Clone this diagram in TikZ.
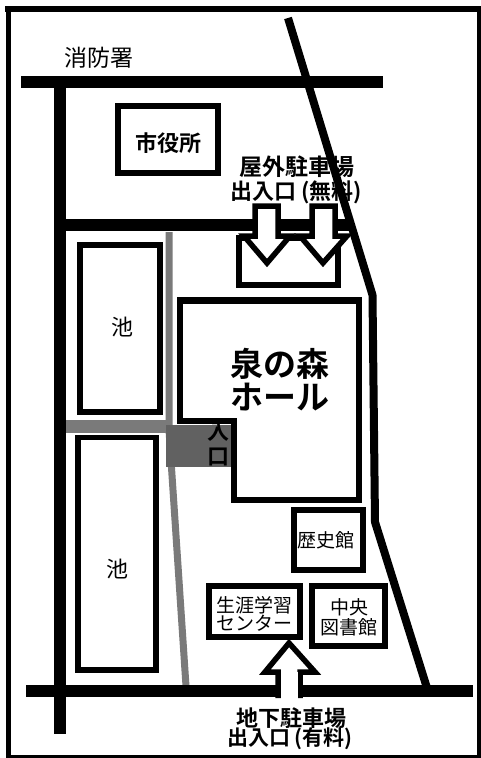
\documentclass[tikz,border=0pt]{standalone}
\usepackage{fontspec}
\setmainfont{Noto Sans CJK JP}[BoldFont={Noto Sans CJK JP Bold}]
\begin{document}
\begin{tikzpicture}[x=1pt,y=-1pt,
  road/.style={line width=12.5pt,black,line cap=butt},
  thinroad/.style={line width=8pt,black,line join=round},
  bldg/.style={draw=black,line width=5.5pt,fill=white,line join=miter},
  arrowshape/.style={draw=black,line width=5.5pt,fill=white,line join=miter},
  lbl/.style={inner sep=0pt,align=center,text=black},
  fs/.style={font=\fontsize{#1pt}{#1pt}\selectfont},
  bfs/.style={font=\fontsize{#1pt}{#1pt}\selectfont\bfseries},
  greyA/.style={black!52},
  greyB/.style={fill=black!62,draw=none}]
\useasboundingbox (0,0) rectangle (481,758);
\fill[white] (0,0) rectangle (481,758);
\draw[line width=6pt,black] (5,9) -- (481,9);
\draw[line width=5pt,black] (8,6) -- (8,757);
\draw[line width=3pt,black] (6,756.5) -- (481,756.5);
\draw[line width=4pt,black] (479,6) -- (479,758);
% pedestrian paths (stippled grey)
\fill[greyA] (63,420) rectangle (172,433);
\draw[greyA,line width=7pt] (169,232) -- (169,430) -- (186,686);
% roads
\draw[road] (21,82) -- (383,82);
\draw[road] (60,76) -- (60,734);
\draw[road] (54,225) -- (352,225);
\draw[road] (26,691) -- (473,691);
\draw[thinroad] (288,18) -- (372.5,295) -- (375,522) -- (427,688);
% ponds
\draw[bldg,line width=6pt] (79.5,245) rectangle (159.5,412);
\draw[bldg] (78,437.5) rectangle (156,670);
% buildings
\draw[bldg,line width=6pt] (118,106) rectangle (218,173);
\draw[bldg] (239,238) rectangle (338,285);
\draw[bldg,line width=6.5pt] (180,300.5) -- (359,300.5) -- (359,500) -- (234,500) -- (234,421) -- (180,421) -- cycle;
% entrance
\fill[greyB] (166,425) rectangle (231,467);
\draw[bldg] (294,510) rectangle (363,570);
\draw[bldg] (209,586) rectangle (300,637);
\draw[bldg] (312,586) rectangle (385,646);
% parking arrows
\draw[arrowshape] (255,206) -- (278,206) -- (278,236) -- (290,236) -- (267,263) -- (244,236) -- (255,236) -- cycle;
\draw[arrowshape] (312,206) -- (335,206) -- (335,236) -- (347,236) -- (323,263) -- (300,236) -- (312,236) -- cycle;
% underground parking arrow
\draw[arrowshape] (278,698) -- (278,672) -- (265,672) -- (289,643) -- (315,672) -- (300,672) -- (300,698);
\fill[white] (280.5,672) rectangle (297.5,699);
% labels
\node[lbl,fs=23] (fire) at (99,58) {消防署};
\node[lbl,bfs=22] (city) at (168,143) {市役所};
\node[lbl,bfs=23] (outA) at (297,167) {屋外駐車場};
\node[lbl,bfs=22] (outB) at (296,192) {出入口 (無料)};
\node[lbl,bfs=33] (hallA) at (280,364) {泉の森};
\node[lbl,bfs=33] (hallB) at (280,397) {ホール};
\node[lbl,fs=22] (pondLabelA) at (122,327) {池};
\node[lbl,fs=22] (pondLabelB) at (117,569) {池};
\node[lbl,bfs=22] (entA) at (218,432) {入};
\node[lbl,bfs=22] (entB) at (218,457) {口};
\node[lbl,fs=19] (hist) at (326,540) {歴史館};
\node[lbl,fs=19] (lifeA) at (254,605) {生涯学習};
\node[lbl,fs=19] (lifeB) at (254,623) {センター};
\node[lbl,fs=19] (libA) at (349,607) {中央};
\node[lbl,fs=19] (libB) at (349,627) {図書館};
\node[lbl,bfs=22] (undA) at (291,718) {地下駐車場};
\node[lbl,bfs=21] (undB) at (290,739) {出入口 (有料)};
\end{tikzpicture}
\end{document}
